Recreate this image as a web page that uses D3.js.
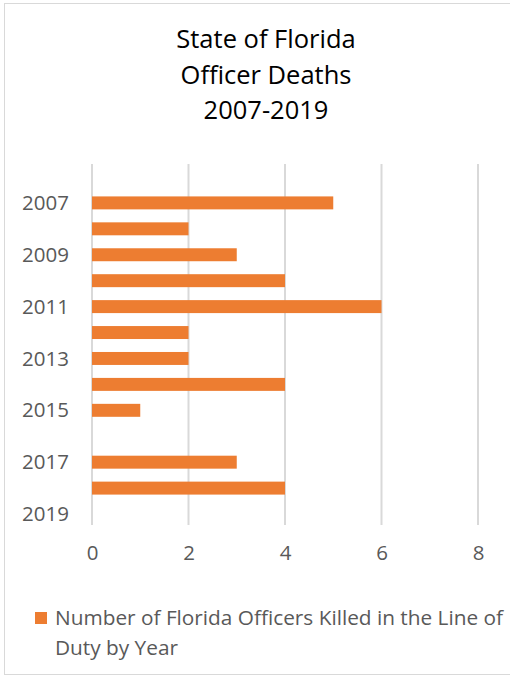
<!DOCTYPE html>
<html>
<head>
<meta charset="utf-8">
<script src="https://cdn.jsdelivr.net/npm/d3@7"></script>
<style>
  body { margin:0; background:#fff; }
  text { font-family: "Open Sans", sans-serif; }
</style>
</head>
<body>
<div class="canvas"></div>
<script>
var years = ['2007','2008','2009','2010','2011','2012','2013','2014','2015','2016','2017','2018','2019'];
var deaths = [5,2,3,4,6,2,2,4,1,0,3,4,0];
var xTicks = [0,2,4,6,8];
var titleLines = ['State of Florida','Officer Deaths','2007-2019'];
var legendText = ['Number of Florida Officers Killed in the Line of','Duty by Year'];

var W = 510, H = 677;
var plot = {l:92, r:478, t:164, b:527};

var svg = d3.select('.canvas')
    .append('svg')
    .attr('width',W)
    .attr('height',H);

// chart border
svg.append('rect')
    .attr('x',4.5).attr('y',3.5)
    .attr('width',W+10).attr('height',671)
    .attr('fill','#fff')
    .attr('stroke','#d9d9d9');

// title
svg.append('text')
    .attr('text-anchor','middle')
    .attr('font-size',25.5)
    .attr('fill','#000')
    .selectAll('tspan')
    .data(titleLines)
    .enter()
    .append('tspan')
    .attr('x',266)
    .attr('y',function(d,i){ return 48 + i*35.5; })
    .text(function(d){ return d; });

var x = d3.scaleLinear().domain([0,8]).range([plot.l, plot.r]);

// one band per year, with an empty slot at top like the source
var y = d3.scaleBand()
    .domain(years)
    .range([plot.t + (plot.b-plot.t)/14, plot.b])
    .paddingInner(0.5)
    .paddingOuter(0.25);

// gridlines
svg.append('g')
    .selectAll('line')
    .data(xTicks)
    .enter()
    .append('line')
    .attr('x1',function(d){ return x(d); })
    .attr('x2',function(d){ return x(d); })
    .attr('y1',plot.t)
    .attr('y2',plot.b - 2)
    .attr('stroke','#d9d9d9')
    .attr('stroke-width',2);

// bars
svg.append('g')
    .selectAll('rect')
    .data(deaths)
    .enter()
    .append('rect')
    .attr('x',x(0))
    .attr('y',function(d,i){ return y(years[i]); })
    .attr('width',function(d){ return x(d) - x(0); })
    .attr('height',y.bandwidth())
    .attr('fill','#ED7D31');

// y axis labels (every other year)
svg.append('g')
    .selectAll('text')
    .data(years.filter(function(d,i){ return i % 2 === 0; }))
    .enter()
    .append('text')
    .attr('x',69)
    .attr('y',function(d){ return y(d) + y.bandwidth()/2; })
    .attr('dy','0.35em')
    .attr('text-anchor','end')
    .attr('font-size',20.5)
    .attr('fill','#595959')
    .text(function(d){ return d; });

// x axis
var xAxis = svg.append('g')
    .attr('transform','translate(0,' + plot.b + ')')
    .call(d3.axisBottom(x).tickValues(xTicks).tickSize(0).tickPadding(18));
xAxis.select('.domain').remove();
xAxis.selectAll('text')
    .attr('font-size',20.5)
    .attr('fill','#595959')
    .style('font-family','"Open Sans", sans-serif');

// legend
svg.append('rect')
    .attr('x',35).attr('y',612)
    .attr('width',12).attr('height',12)
    .attr('fill','#ED7D31');
svg.append('text')
    .attr('font-size',20.8)
    .attr('fill','#595959')
    .selectAll('tspan')
    .data(legendText)
    .enter()
    .append('tspan')
    .attr('x',55)
    .attr('y',function(d,i){ return 625 + i*29.5; })
    .text(function(d){ return d; });
</script>
</body>
</html>
